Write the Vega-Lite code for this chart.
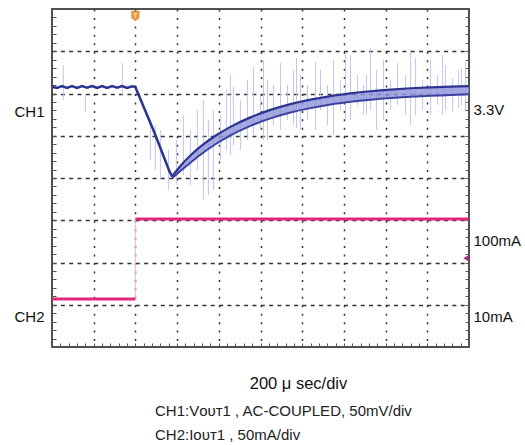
{
  "$schema": "https://vega.github.io/schema/vega-lite/v6.json",
  "autosize": "none",
  "width": 417,
  "height": 338,
  "padding": {"left": 52, "top": 9, "right": 56, "bottom": 98},
  "background": "white",
  "view": {"stroke": "#505050", "strokeWidth": 2},
  "config": {
    "font": "Liberation Sans",
    "axis": {"labelFont": "Liberation Sans", "titleFont": "Liberation Sans"}
  },
  "title": {
    "text": ["CH1:Vᴏᴜᴛ1 , AC-COUPLED, 50mV/div", "CH2:Iᴏᴜᴛ1 , 50mA/div"],
    "orient": "bottom",
    "anchor": "start",
    "frame": "group",
    "align": "left",
    "dx": 103,
    "offset": 12,
    "fontSize": 15,
    "fontWeight": "normal",
    "font": "Liberation Sans",
    "color": "#222222",
    "lineHeight": 24
  },
  "datasets": {
    "spikes": [
      {"x": 0.271, "top": 6.675, "bot": 5.846},
      {"x": 0.799, "top": 5.964, "bot": 5.562},
      {"x": 1.687, "top": 6.722, "bot": 5.964},
      {"x": 2.359, "top": 5.373, "bot": 4.426},
      {"x": 2.479, "top": 5.254, "bot": 4.189},
      {"x": 2.599, "top": 5.136, "bot": 3.953},
      {"x": 2.791, "top": 4.663, "bot": 3.716},
      {"x": 2.983, "top": 4.899, "bot": 3.834},
      {"x": 3.151, "top": 5.491, "bot": 4.071},
      {"x": 3.319, "top": 5.136, "bot": 3.834},
      {"x": 3.487, "top": 5.609, "bot": 4.189},
      {"x": 3.631, "top": 5.846, "bot": 3.479},
      {"x": 3.751, "top": 5.373, "bot": 3.598},
      {"x": 3.871, "top": 5.609, "bot": 3.716},
      {"x": 4.039, "top": 5.491, "bot": 4.426},
      {"x": 4.183, "top": 6.083, "bot": 4.663},
      {"x": 4.279, "top": 6.438, "bot": 4.544},
      {"x": 4.351, "top": 6.154, "bot": 4.781},
      {"x": 4.519, "top": 5.846, "bot": 4.663},
      {"x": 4.687, "top": 6.320, "bot": 4.899},
      {"x": 4.831, "top": 6.627, "bot": 5.018},
      {"x": 4.999, "top": 5.964, "bot": 5.136},
      {"x": 5.071, "top": 6.793, "bot": 4.899},
      {"x": 5.167, "top": 6.320, "bot": 4.899},
      {"x": 5.311, "top": 6.201, "bot": 5.254},
      {"x": 5.479, "top": 6.722, "bot": 5.136},
      {"x": 5.647, "top": 6.201, "bot": 5.373},
      {"x": 5.791, "top": 6.556, "bot": 5.254},
      {"x": 5.863, "top": 6.840, "bot": 5.183},
      {"x": 5.959, "top": 6.438, "bot": 5.136},
      {"x": 6.127, "top": 6.201, "bot": 5.373},
      {"x": 6.319, "top": 6.746, "bot": 5.136},
      {"x": 6.439, "top": 6.556, "bot": 5.609},
      {"x": 6.607, "top": 6.201, "bot": 5.254},
      {"x": 6.751, "top": 6.793, "bot": 5.018},
      {"x": 6.919, "top": 6.320, "bot": 5.609},
      {"x": 7.038, "top": 6.982, "bot": 5.373},
      {"x": 7.159, "top": 6.911, "bot": 5.373},
      {"x": 7.327, "top": 6.438, "bot": 5.728},
      {"x": 7.471, "top": 6.201, "bot": 5.491},
      {"x": 7.542, "top": 6.438, "bot": 5.491},
      {"x": 7.639, "top": 7.077, "bot": 5.609},
      {"x": 7.783, "top": 6.556, "bot": 5.136},
      {"x": 7.951, "top": 6.793, "bot": 5.373},
      {"x": 8.119, "top": 6.320, "bot": 5.609},
      {"x": 8.287, "top": 6.722, "bot": 5.728},
      {"x": 8.479, "top": 6.438, "bot": 5.491},
      {"x": 8.598, "top": 7.030, "bot": 5.254},
      {"x": 8.719, "top": 6.840, "bot": 5.491},
      {"x": 8.887, "top": 6.320, "bot": 5.609},
      {"x": 9.079, "top": 6.793, "bot": 5.491},
      {"x": 9.247, "top": 6.438, "bot": 5.728},
      {"x": 9.366, "top": 6.911, "bot": 5.491},
      {"x": 9.439, "top": 6.675, "bot": 5.609},
      {"x": 9.607, "top": 6.367, "bot": 5.562},
      {"x": 9.751, "top": 6.556, "bot": 5.657},
      {"x": 9.822, "top": 6.604, "bot": 5.728},
      {"x": 9.919, "top": 6.746, "bot": 5.609}
    ],
    "band": [
      {"x": 2.887, "hi": 4.049, "lo": 3.999},
      {"x": 3.079, "hi": 4.285, "lo": 4.165},
      {"x": 3.319, "hi": 4.532, "lo": 4.362},
      {"x": 3.559, "hi": 4.741, "lo": 4.551},
      {"x": 3.919, "hi": 4.999, "lo": 4.799},
      {"x": 4.279, "hi": 5.210, "lo": 5.010},
      {"x": 4.759, "hi": 5.435, "lo": 5.235},
      {"x": 5.239, "hi": 5.612, "lo": 5.412},
      {"x": 5.719, "hi": 5.750, "lo": 5.550},
      {"x": 6.199, "hi": 5.854, "lo": 5.654},
      {"x": 6.679, "hi": 5.939, "lo": 5.739},
      {"x": 7.159, "hi": 6.003, "lo": 5.803},
      {"x": 7.639, "hi": 6.053, "lo": 5.853},
      {"x": 8.119, "hi": 6.093, "lo": 5.893},
      {"x": 8.599, "hi": 6.124, "lo": 5.924},
      {"x": 9.079, "hi": 6.147, "lo": 5.947},
      {"x": 9.559, "hi": 6.164, "lo": 5.964},
      {"x": 10.0, "hi": 6.175, "lo": 5.985}
    ],
    "pre": [
      {"x": 0, "y": 6.16}, {"x": 0.12, "y": 6.13}, {"x": 0.24, "y": 6.175}, {"x": 0.36, "y": 6.13},
      {"x": 0.48, "y": 6.175}, {"x": 0.6, "y": 6.13}, {"x": 0.72, "y": 6.175}, {"x": 0.84, "y": 6.135},
      {"x": 0.96, "y": 6.175}, {"x": 1.08, "y": 6.13}, {"x": 1.2, "y": 6.175}, {"x": 1.32, "y": 6.13},
      {"x": 1.44, "y": 6.175}, {"x": 1.56, "y": 6.135}, {"x": 1.68, "y": 6.175}, {"x": 1.8, "y": 6.13},
      {"x": 1.92, "y": 6.17}, {"x": 2.0, "y": 6.15}, {"x": 2.45, "y": 5.09}, {"x": 2.82, "y": 4.15}, {"x": 2.887, "y": 4.03}
    ],
    "ch2": [
      {"x": 0, "y": 1.136, "seg": "low"},
      {"x": 2, "y": 1.136, "seg": "low"},
      {"x": 2, "y": 3.03, "seg": "high"},
      {"x": 10, "y": 3.03, "seg": "high"}
    ],
    "trig": [{"x": 2.0, "y": 7.834, "sym": "T"}],
    "gnd": [{"x": 9.93, "y": 2.1}]
  },
  "resolve": {"axis": {"y": "independent"}},
  "encoding": {
    "x": {
      "field": "x", "type": "quantitative",
      "scale": {"domain": [0, 10], "nice": false, "zero": false},
      "axis": {
        "orient": "bottom",
        "values": [0,0.2,0.4,0.6,0.8,1,1.2,1.4,1.6,1.8,2,2.2,2.4,2.6,2.8,3,3.2,3.4,3.6,3.8,4,4.2,4.4,4.6,4.8,5,5.2,5.4,5.6,5.8,6,6.2,6.4,6.6,6.8,7,7.2,7.4,7.6,7.8,8,8.2,8.4,8.6,8.8,9,9.2,9.4,9.6,9.8,10],
        "domain": false,
        "labels": false,
        "ticks": true,
        "tickSize": -4,
        "tickColor": "#555555",
        "tickWidth": 1,
        "grid": true,
        "gridColor": "#333333",
        "gridWidth": 1.5,
        "gridDash": [2, 6.45],
        "gridOpacity": {"condition": {"test": "datum.value % 1 === 0 && datum.value > 0 && datum.value < 10", "value": 1}, "value": 0},
        "title": "200 μ sec/div",
        "titleFontSize": 16.5,
        "titleFontWeight": "normal",
        "titleColor": "#111111",
        "titleAlign": "center",
        "titleBaseline": "middle",
        "titleX": 246,
        "titleY": 36
      }
    }
  },
  "layer": [
    {
      "data": {"name": "spikes"},
      "mark": {"type": "rule", "color": "#bcc0ec", "strokeWidth": 1, "opacity": 0.9},
      "encoding": {
        "y": {
          "field": "top", "type": "quantitative",
          "scale": {"domain": [0, 8], "nice": false, "zero": false},
          "axis": {
            "orient": "left",
            "values": [0,0.2,0.4,0.6,0.8,1,1.2,1.4,1.6,1.8,2,2.2,2.4,2.6,2.8,3,3.2,3.4,3.6,3.8,4,4.2,4.4,4.6,4.8,5,5.2,5.4,5.6,5.8,6,6.2,6.4,6.6,6.8,7,7.2,7.4,7.6,7.8,8,5.57,0.73],
            "domain": false,
            "ticks": true,
            "tickSize": -4,
            "tickColor": "#555555",
            "tickWidth": 1,
            "tickOpacity": {"condition": {"test": "datum.value === 5.57 || datum.value === 0.73", "value": 0}, "value": 1},
            "grid": true,
            "gridColor": "#333333",
            "gridWidth": 1.5,
            "gridDash": [4, 4.33],
            "gridOpacity": {"condition": {"test": "datum.value % 1 === 0 && datum.value > 0 && datum.value < 8", "value": 1}, "value": 0},
            "labelExpr": "datum.value === 5.57 ? 'CH1' : datum.value === 0.73 ? 'CH2' : ''",
            "labelOverlap": false,
            "labelBound": false,
            "labelFlush": false,
            "labelFontSize": 15,
            "labelColor": "#111111",
            "labelPadding": 12,
            "labelBaseline": "middle",
            "title": null
          }
        },
        "y2": {"field": "bot"}
      }
    },
    {
      "data": {"name": "band"},
      "mark": {"type": "area", "color": "#8e94da", "opacity": 0.8, "interpolate": "monotone"},
      "encoding": {
        "y": {"field": "hi", "type": "quantitative", "axis": null},
        "y2": {"field": "lo"}
      }
    },
    {
      "data": {"name": "band"},
      "mark": {"type": "line", "color": "#2c3592", "strokeWidth": 2.2, "interpolate": "monotone"},
      "encoding": {
        "y": {"field": "hi", "type": "quantitative", "axis": null}
      }
    },
    {
      "data": {"name": "band"},
      "mark": {"type": "line", "color": "#3a43a0", "strokeWidth": 2, "interpolate": "monotone"},
      "encoding": {
        "y": {"field": "lo", "type": "quantitative", "axis": null}
      }
    },
    {
      "data": {"name": "pre"},
      "mark": {"type": "line", "color": "#2a3390", "strokeWidth": 2.5},
      "encoding": {
        "y": {"field": "y", "type": "quantitative", "axis": null}
      }
    },
    {
      "data": {"name": "ch2"},
      "transform": [{"filter": "datum.x === 2"}],
      "mark": {"type": "rule", "color": "#f5b8d2", "strokeWidth": 1},
      "encoding": {
        "y": {"field": "y", "type": "quantitative", "aggregate": "min", "axis": null},
        "y2": {"field": "y", "aggregate": "max"}
      }
    },
    {
      "data": {"name": "ch2"},
      "mark": {"type": "line", "color": "#e0287c", "strokeWidth": 3},
      "encoding": {
        "detail": {"field": "seg"},
        "y": {
          "field": "y", "type": "quantitative",
          "axis": {
            "orient": "right",
            "values": [0,0.2,0.4,0.6,0.8,1,1.2,1.4,1.6,1.8,2,2.2,2.4,2.6,2.8,3,3.2,3.4,3.6,3.8,4,4.2,4.4,4.6,4.8,5,5.2,5.4,5.6,5.8,6,6.2,6.4,6.6,6.8,7,7.2,7.4,7.6,7.8,8,5.61,2.53,0.73],
            "domain": false,
            "ticks": true,
            "tickSize": -4,
            "tickColor": "#555555",
            "tickWidth": 1,
            "tickOpacity": {"condition": {"test": "datum.value === 5.61 || datum.value === 2.53 || datum.value === 0.73", "value": 0}, "value": 1},
            "grid": false,
            "labelExpr": "datum.value === 5.61 ? '3.3V' : datum.value === 2.53 ? '100mA' : datum.value === 0.73 ? '10mA' : ''",
            "labelOverlap": false,
            "labelBound": false,
            "labelFlush": false,
            "labelFontSize": 15,
            "labelColor": "#111111",
            "labelPadding": 8,
            "labelBaseline": "middle",
            "title": null
          }
        }
      }
    },
    {
      "data": {"name": "trig"},
      "mark": {"type": "point", "shape": "M-0.8,-1 L0.8,-1 L0.8,0.4 L0,1 L-0.8,0.4 Z", "filled": true, "color": "#e8973c", "size": 110, "opacity": 1},
      "encoding": {
        "y": {"field": "y", "type": "quantitative", "axis": null}
      }
    },
    {
      "data": {"name": "trig"},
      "mark": {"type": "text", "color": "#f8dcb5", "fontSize": 8, "fontWeight": "bold", "baseline": "middle", "align": "center"},
      "encoding": {
        "y": {"field": "y", "type": "quantitative", "axis": null},
        "text": {"field": "sym"}
      }
    },
    {
      "data": {"name": "gnd"},
      "mark": {"type": "point", "shape": "triangle-left", "filled": true, "color": "#a8248c", "size": 40, "opacity": 1},
      "encoding": {
        "y": {"field": "y", "type": "quantitative", "axis": null}
      }
    }
  ]
}
